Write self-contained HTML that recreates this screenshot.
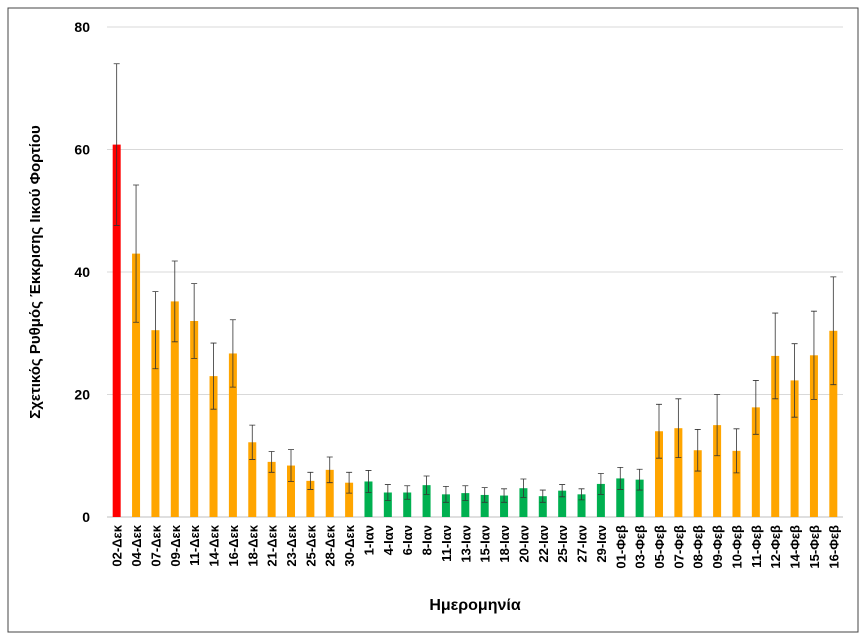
<!DOCTYPE html>
<html><head><meta charset="utf-8"><style>
body{margin:0;background:#fff;}
svg{display:block;font-family:"Liberation Sans",sans-serif;}
</style></head><body>
<svg id="c" width="868" height="644">
<rect x="8" y="8" width="850" height="624" fill="#fff" stroke="#444" stroke-width="1"/>
</svg>
<script>
const categories=["02-Δεκ","04-Δεκ","07-Δεκ","09-Δεκ","11-Δεκ","14-Δεκ","16-Δεκ","18-Δεκ","21-Δεκ","23-Δεκ","25-Δεκ","28-Δεκ","30-Δεκ","1-Ιαν","4-Ιαν","6-Ιαν","8-Ιαν","11-Ιαν","13-Ιαν","15-Ιαν","18-Ιαν","20-Ιαν","22-Ιαν","25-Ιαν","27-Ιαν","29-Ιαν","01-Φεβ","03-Φεβ","05-Φεβ","07-Φεβ","08-Φεβ","09-Φεβ","10-Φεβ","11-Φεβ","12-Φεβ","14-Φεβ","15-Φεβ","16-Φεβ"];
const values=[60.8,43,30.5,35.2,32,23,26.7,12.2,9,8.4,5.9,7.7,5.6,5.8,4,4,5.2,3.7,3.9,3.6,3.5,4.7,3.4,4.3,3.7,5.4,6.3,6.1,14,14.5,10.9,15,10.8,17.9,26.3,22.3,26.4,30.4];
const errors=[13.2,11.2,6.3,6.6,6.1,5.4,5.5,2.8,1.7,2.6,1.4,2.1,1.7,1.8,1.3,1.1,1.5,1.3,1.2,1.2,1.1,1.5,1.0,1.0,0.9,1.7,1.8,1.7,4.4,4.8,3.4,5.0,3.6,4.4,7.0,6.0,7.2,8.8];
const groups=["r","o","o","o","o","o","o","o","o","o","o","o","o","g","g","g","g","g","g","g","g","g","g","g","g","g","g","g","o","o","o","o","o","o","o","o","o","o"];
const yTicks=[0,20,40,60,80];
const svg=document.getElementById('c');const NS='http://www.w3.org/2000/svg';
const L=107,R=843,T=27,B=517,yMax=80;
const y=v=>B-(v/yMax)*(B-T);
const step=(R-L)/categories.length;
const x=i=>L+step*(i+0.5);
const col={r:"#ff0000",o:"#ffa500",g:"#00b050"};
function mk(t,a){const e=document.createElementNS(NS,t);for(const k in a)e.setAttribute(k,a[k]);svg.appendChild(e);return e;}
yTicks.forEach(t=>{
 if(t>0){const g=mk('line',{x1:L,x2:R,y1:y(t),y2:y(t),stroke:'#d9d9d9','stroke-width':1});
 
 }
 const tx=mk('text',{x:90,y:y(t)+5,'text-anchor':'end','font-size':14,'font-weight':'bold',fill:'#000'});tx.textContent=t;
 
 
});
const ax=mk('line',{x1:L,x2:R,y1:B,y2:B,stroke:'#bfbfbf','stroke-width':1});


categories.forEach((c,i)=>{
 const w=8,v=values[i];
 const b=mk('rect',{x:x(i)-w/2,y:y(v),width:w,height:B-y(v),fill:col[groups[i]]});
 
 
 const e=errors[i],yt=y(v+e),yb=y(Math.max(0,v-e));
 const el=mk('path',{d:`M${x(i)},${yt}V${yb}M${x(i)-3},${yt}H${x(i)+3}M${x(i)-3},${yb}H${x(i)+3}`,stroke:'#333','stroke-width':0.8,fill:'none'});
 
 
 const lx=x(i)+5,ly=B+8;
 const t=mk('text',{x:lx,y:ly,transform:`rotate(-90 ${lx} ${ly})`,'text-anchor':'end','font-size':13,'font-weight':'bold',fill:'#000'});
 t.textContent=c;
 
 
});
const xt=mk('text',{x:(L+R)/2,y:610,'text-anchor':'middle','font-size':16,'font-weight':'bold'});xt.textContent='Ημερομηνία';


const yt=mk('text',{x:40,y:(T+B)/2,transform:`rotate(-90 40 ${(T+B)/2})`,'text-anchor':'middle','font-size':15,'font-weight':'bold'});yt.textContent='Σχετικός Ρυθμός Έκκρισης Ιικού Φορτίου';


</script>
</body></html>
